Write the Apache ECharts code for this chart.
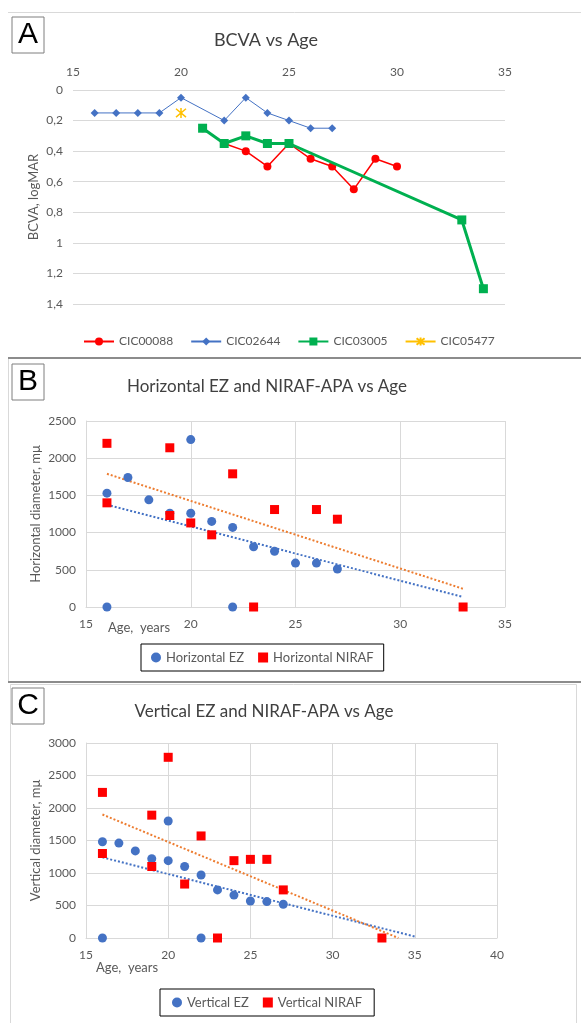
<!DOCTYPE html>
<html>
<head>
<meta charset="utf-8">
<script src="https://cdn.jsdelivr.net/npm/echarts@6/dist/echarts.min.js"></script>
<style>
  html, body { margin: 0; padding: 0; background: #fff; }
  #chart { width: 581px; height: 1023px; }
</style>
</head>
<body>
<div id="chart"></div>
<script>
// ---- panel A: BCVA vs age ----
var age00088 = [21, 22, 23, 24, 25, 26, 27, 28, 29, 30];
var bcva00088 = [0.25, 0.35, 0.4, 0.5, 0.35, 0.45, 0.5, 0.65, 0.45, 0.5];
var age02644 = [16, 17, 18, 19, 20, 22, 23, 24, 25, 26, 27];
var bcva02644 = [0.15, 0.15, 0.15, 0.15, 0.05, 0.2, 0.05, 0.15, 0.2, 0.25, 0.25];
var age03005 = [21, 22, 23, 24, 25, 33, 34];
var bcva03005 = [0.25, 0.35, 0.3, 0.35, 0.35, 0.85, 1.3];
var age05477 = [20];
var bcva05477 = [0.15];

// ---- panel B: horizontal diameter ----
var hEzAge = [16, 17, 18, 19, 20, 20, 21, 22, 23, 24, 25, 26, 27, 16, 22];
var hEzVal = [1530, 1740, 1440, 1260, 2250, 1260, 1150, 1070, 810, 750, 590, 590, 510, 0, 0];
var hNirafAge = [16, 16, 19, 19, 20, 21, 22, 24, 26, 27, 23, 33];
var hNirafVal = [2200, 1400, 2140, 1230, 1130, 970, 1790, 1310, 1310, 1180, 0, 0];
// trend line ends
var hEzTrendAge = [16, 33];
var hEzTrendVal = [1375, 135];
var hNirafTrendAge = [16, 33];
var hNirafTrendVal = [1790, 245];

// ---- panel C: vertical diameter ----
var vEzAge = [16, 17, 18, 19, 20, 20, 21, 22, 23, 24, 25, 26, 27, 16, 22];
var vEzVal = [1480, 1460, 1340, 1220, 1800, 1190, 1100, 970, 740, 660, 570, 560, 520, 0, 0];
var vNirafAge = [16, 16, 19, 19, 20, 21, 22, 24, 25, 26, 27, 23, 33];
var vNirafVal = [2240, 1300, 1890, 1100, 2780, 830, 1570, 1190, 1210, 1210, 740, 0, 0];
var vEzTrendAge = [16, 35];
var vEzTrendVal = [1240, 22];
var vNirafTrendAge = [16, 34];
var vNirafTrendVal = [1900, 0];

function zip(xs, ys) {
  return xs.map(function (x, i) { return [x, ys[i]]; });
}

var FONT = 'Lato, "Open Sans", sans-serif';
var LABEL = '#595959';
var GRID = '#d9d9d9';
var BLUE = '#4472C4';
var RED = '#FF0000';
var GREEN = '#00B050';
var GOLD = '#FFC000';
var ORANGE = '#ED7D31';

var labelStyle = { color: LABEL, fontSize: 12, fontFamily: FONT, formatter: function (v) { return String(v); } };

function valueAxis(opt) {
  return Object.assign({
    type: 'value',
    axisTick: { show: false },
    axisLine: { show: true, lineStyle: { color: GRID } },
    splitLine: { show: true, lineStyle: { color: GRID, width: 1 } },
    axisLabel: Object.assign({ margin: 10 }, labelStyle),
    nameMoveOverlap: false,
    nameTextStyle: { color: LABEL, fontSize: 13, fontFamily: FONT }
  }, opt);
}

function panelText(x, y, text, size, color) {
  return {
    type: 'text', x: x, y: y,
    style: { text: text, fill: color || '#404040', font: size + 'px ' + FONT, textAlign: 'center', textVerticalAlign: 'middle' }
  };
}

function letterBox(x, y, letter) {
  return [
    { type: 'rect', shape: { x: x, y: y, width: 32, height: 36 }, style: { fill: '#fff', stroke: '#7f7f7f', lineWidth: 1 } },
    { type: 'text', x: x + 16, y: y + 18, style: { text: letter, fill: '#000', font: '30px "Liberation Sans", Arial, sans-serif', textAlign: 'center', textVerticalAlign: 'middle' } }
  ];
}

var asterisk = 'path://M0,0L10,10M10,0L0,10M5,-1L5,11';

var chart = echarts.init(document.getElementById('chart'));

chart.setOption({
  backgroundColor: '#fff',
  animation: false,
  textStyle: { fontFamily: FONT },
  grid: [
    { left: 73, top: 90, width: 432, height: 214, outerBoundsMode: 'none' },
    { left: 86, top: 421, width: 419, height: 186, outerBoundsMode: 'none' },
    { left: 86, top: 743, width: 411, height: 195, outerBoundsMode: 'none' }
  ],
  xAxis: [
    valueAxis({
      gridIndex: 0, position: 'top', min: 15, max: 35, interval: 5,
      axisLine: { show: false }, splitLine: { show: false },
      axisLabel: Object.assign({ margin: 12 }, labelStyle)
    }),
    valueAxis({ gridIndex: 1, min: 15, max: 35, interval: 5, axisLabel: Object.assign({ margin: 11 }, labelStyle) }),
    valueAxis({ gridIndex: 2, min: 15, max: 40, interval: 5, axisLabel: Object.assign({ margin: 11 }, labelStyle) })
  ],
  yAxis: [
    valueAxis({
      gridIndex: 0, inverse: true, min: 0, max: 1.4, interval: 0.2,
      axisLine: { show: false },
      axisLabel: Object.assign({}, labelStyle, {
        margin: 10,
        formatter: function (v) { return String(Math.round(v * 10) / 10).replace('.', ','); }
      }),
      name: 'BCVA, logMAR', nameLocation: 'middle', nameGap: 33
    }),
    valueAxis({
      gridIndex: 1, min: 0, max: 2500, interval: 500,
      name: 'Horizontal diameter, m\u03bc', nameLocation: 'middle', nameGap: 44
    }),
    valueAxis({
      gridIndex: 2, min: 0, max: 3000, interval: 500,
      name: 'Vertical diameter, m\u03bc', nameLocation: 'middle', nameGap: 44
    })
  ],
  legend: [
    {
      data: ['CIC00088', 'CIC02644', 'CIC03005', 'CIC05477'],
      left: 78, top: 330, itemWidth: 30, itemHeight: 10, itemGap: 17,
      textStyle: { color: LABEL, fontSize: 12, fontFamily: FONT }
    },
    {
      data: ['Horizontal EZ', 'Horizontal NIRAF'],
      left: 141, top: 644, itemWidth: 10, itemHeight: 10, itemGap: 14,
      padding: [7, 10], borderColor: '#000', borderWidth: 1,
      textStyle: { color: LABEL, fontSize: 13, fontFamily: FONT }
    },
    {
      data: ['Vertical EZ', 'Vertical NIRAF'],
      left: 160, top: 989, itemWidth: 10, itemHeight: 10, itemGap: 14,
      padding: [7, 12], borderColor: '#000', borderWidth: 1,
      textStyle: { color: LABEL, fontSize: 13, fontFamily: FONT }
    }
  ],
  series: [
    // panel A
    {
      name: 'CIC00088', type: 'line', xAxisIndex: 0, yAxisIndex: 0,
      data: zip(age00088, bcva00088), symbol: 'circle', symbolSize: 8,
      lineStyle: { color: RED, width: 1.5 }, itemStyle: { color: RED }, z: 2
    },
    {
      name: 'CIC02644', type: 'line', xAxisIndex: 0, yAxisIndex: 0,
      data: zip(age02644, bcva02644), symbol: 'diamond', symbolSize: 8,
      lineStyle: { color: BLUE, width: 1 }, itemStyle: { color: BLUE }, z: 3
    },
    {
      name: 'CIC03005', type: 'line', xAxisIndex: 0, yAxisIndex: 0,
      data: zip(age03005, bcva03005), symbol: 'rect', symbolSize: 9,
      lineStyle: { color: GREEN, width: 3 }, itemStyle: { color: GREEN }, z: 4
    },
    {
      name: 'CIC05477', type: 'line', xAxisIndex: 0, yAxisIndex: 0,
      data: zip(age05477, bcva05477), symbol: asterisk, symbolSize: 10,
      lineStyle: { color: GOLD, width: 1 },
      itemStyle: { color: 'none', borderColor: GOLD, borderWidth: 1.5 }, z: 5
    },
    // panel B
    {
      type: 'line', xAxisIndex: 1, yAxisIndex: 1, data: zip(hEzTrendAge, hEzTrendVal),
      showSymbol: false, silent: true, lineStyle: { color: BLUE, width: 2, type: [2, 2] }, z: 1
    },
    {
      type: 'line', xAxisIndex: 1, yAxisIndex: 1, data: zip(hNirafTrendAge, hNirafTrendVal),
      showSymbol: false, silent: true, lineStyle: { color: ORANGE, width: 2, type: [2, 2] }, z: 1
    },
    {
      name: 'Horizontal EZ', type: 'scatter', xAxisIndex: 1, yAxisIndex: 1,
      data: zip(hEzAge, hEzVal), symbol: 'circle', symbolSize: 9, itemStyle: { color: BLUE, opacity: 1 }, z: 3
    },
    {
      name: 'Horizontal NIRAF', type: 'scatter', xAxisIndex: 1, yAxisIndex: 1,
      data: zip(hNirafAge, hNirafVal), symbol: 'rect', symbolSize: 9, itemStyle: { color: RED, opacity: 1 }, z: 4
    },
    // panel C
    {
      type: 'line', xAxisIndex: 2, yAxisIndex: 2, data: zip(vEzTrendAge, vEzTrendVal),
      showSymbol: false, silent: true, lineStyle: { color: BLUE, width: 2, type: [2, 2] }, z: 1
    },
    {
      type: 'line', xAxisIndex: 2, yAxisIndex: 2, data: zip(vNirafTrendAge, vNirafTrendVal),
      showSymbol: false, silent: true, lineStyle: { color: ORANGE, width: 2, type: [2, 2] }, z: 1
    },
    {
      name: 'Vertical EZ', type: 'scatter', xAxisIndex: 2, yAxisIndex: 2,
      data: zip(vEzAge, vEzVal), symbol: 'circle', symbolSize: 9, itemStyle: { color: BLUE, opacity: 1 }, z: 3
    },
    {
      name: 'Vertical NIRAF', type: 'scatter', xAxisIndex: 2, yAxisIndex: 2,
      data: zip(vNirafAge, vNirafVal), symbol: 'rect', symbolSize: 9, itemStyle: { color: RED, opacity: 1 }, z: 4
    }
  ],
  graphic: [
    // panel frames
    { type: 'line', shape: { x1: 8, y1: 12.5, x2: 581, y2: 12.5 }, style: { stroke: '#d9d9d9', lineWidth: 1 } },
    { type: 'line', shape: { x1: 8, y1: 358, x2: 581, y2: 358 }, style: { stroke: '#8c8c8c', lineWidth: 2 } },
    { type: 'line', shape: { x1: 8.5, y1: 359, x2: 8.5, y2: 681 }, style: { stroke: '#d9d9d9', lineWidth: 1 } },
    { type: 'line', shape: { x1: 8, y1: 682, x2: 581, y2: 682 }, style: { stroke: '#8c8c8c', lineWidth: 2 } },
    { type: 'rect', shape: { x: 10.5, y: 684.5, width: 566, height: 345 }, style: { fill: 'none', stroke: '#d9d9d9', lineWidth: 1 } },
    // titles
    panelText(266, 40, 'BCVA vs Age', 18),
    panelText(267, 387, 'Horizontal EZ and NIRAF-APA vs Age', 17),
    panelText(264, 712, 'Vertical EZ and NIRAF-APA vs Age', 17),
    // x axis names
    { type: 'text', x: 108, y: 628, style: { text: 'Age,  years', fill: LABEL, font: '13px ' + FONT, textVerticalAlign: 'middle' } },
    { type: 'text', x: 96, y: 968, style: { text: 'Age,  years', fill: LABEL, font: '13px ' + FONT, textVerticalAlign: 'middle' } }
  ].concat(letterBox(12, 17, 'A'), letterBox(12, 364, 'B'), letterBox(12, 688, 'C'))
});
</script>
</body>
</html>
